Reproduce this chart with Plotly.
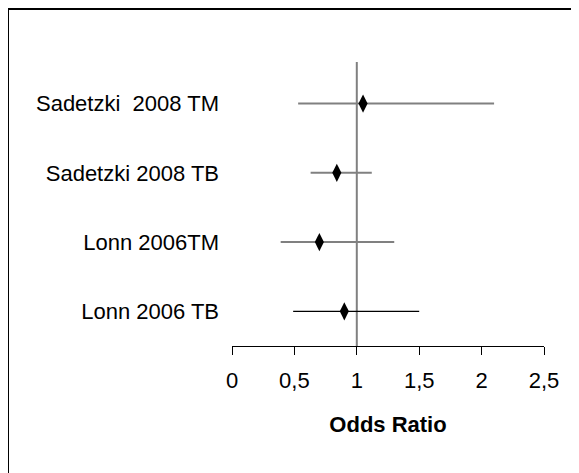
import plotly.graph_objects as go

# Data
studies = ["Sadetzki  2008 TM", "Sadetzki 2008 TB", "Lonn 2006TM", "Lonn 2006 TB"]
odds_ratio = [1.05, 0.84, 0.70, 0.90]
ci_low = [0.53, 0.63, 0.39, 0.49]
ci_high = [2.10, 1.12, 1.30, 1.50]
row_pos = [4, 3, 2, 1]
bar_colors = ["#808080", "#808080", "#808080", "#000000"]
bar_widths = [2, 2, 2, 1.2]
x_tickvals = [0, 0.5, 1, 1.5, 2, 2.5]
x_ticktext = ["0", "0,5", "1", "1,5", "2", "2,5"]

FONT = "Liberation Sans, Arial, sans-serif"

# page body has an 8px margin, so figure coordinates are page coords minus 8
W, H = 571, 465
L, T = 224, 54
PW, PH = 312, 284

fig = go.Figure()

for lo, hi, y, c, w in zip(ci_low, ci_high, row_pos, bar_colors, bar_widths):
    fig.add_trace(go.Scatter(x=[lo, hi], y=[y, y], mode="lines",
                             line=dict(color=c, width=w), showlegend=False,
                             hoverinfo="skip"))

fig.add_trace(go.Scatter(x=odds_ratio, y=row_pos, mode="markers",
                         marker=dict(symbol="diamond-tall", size=13, color="black"),
                         showlegend=False))

# reference line at OR = 1
fig.add_shape(type="line", xref="x", yref="y", x0=1, x1=1, y0=0.5, y1=4.6,
              line=dict(color="#808080", width=2), layer="below")

# outer frame
fig.add_shape(type="rect", xref="paper", yref="paper",
              x0=(0 - L) / PW, x1=(W + 4 - L) / PW,
              y0=(T + PH - H - 4) / PH, y1=(T + PH - 1) / PH,
              line=dict(color="black", width=2))

fig.update_layout(
    width=W, height=H,
    margin=dict(l=L, r=W - L - PW, t=T, b=H - T - PH),
    paper_bgcolor="white", plot_bgcolor="white",
    font=dict(family=FONT, size=22, color="black"),
    xaxis=dict(range=[0, 2.5], tickvals=x_tickvals, ticktext=x_ticktext,
               showgrid=False, zeroline=False, showline=True, linecolor="black",
               linewidth=1, ticks="outside", ticklen=8, tickcolor="black",
               tickfont=dict(size=22), ticklabelstandoff=7,
               title=dict(text="<b>Odds Ratio</b>", font=dict(size=22), standoff=24)),
    yaxis=dict(range=[0.5, 4.6], tickvals=row_pos, ticktext=studies,
               showgrid=False, zeroline=False, showline=False, ticks="",
               tickfont=dict(size=22), ticklabelstandoff=12),
)

fig.write_html("out.html")
